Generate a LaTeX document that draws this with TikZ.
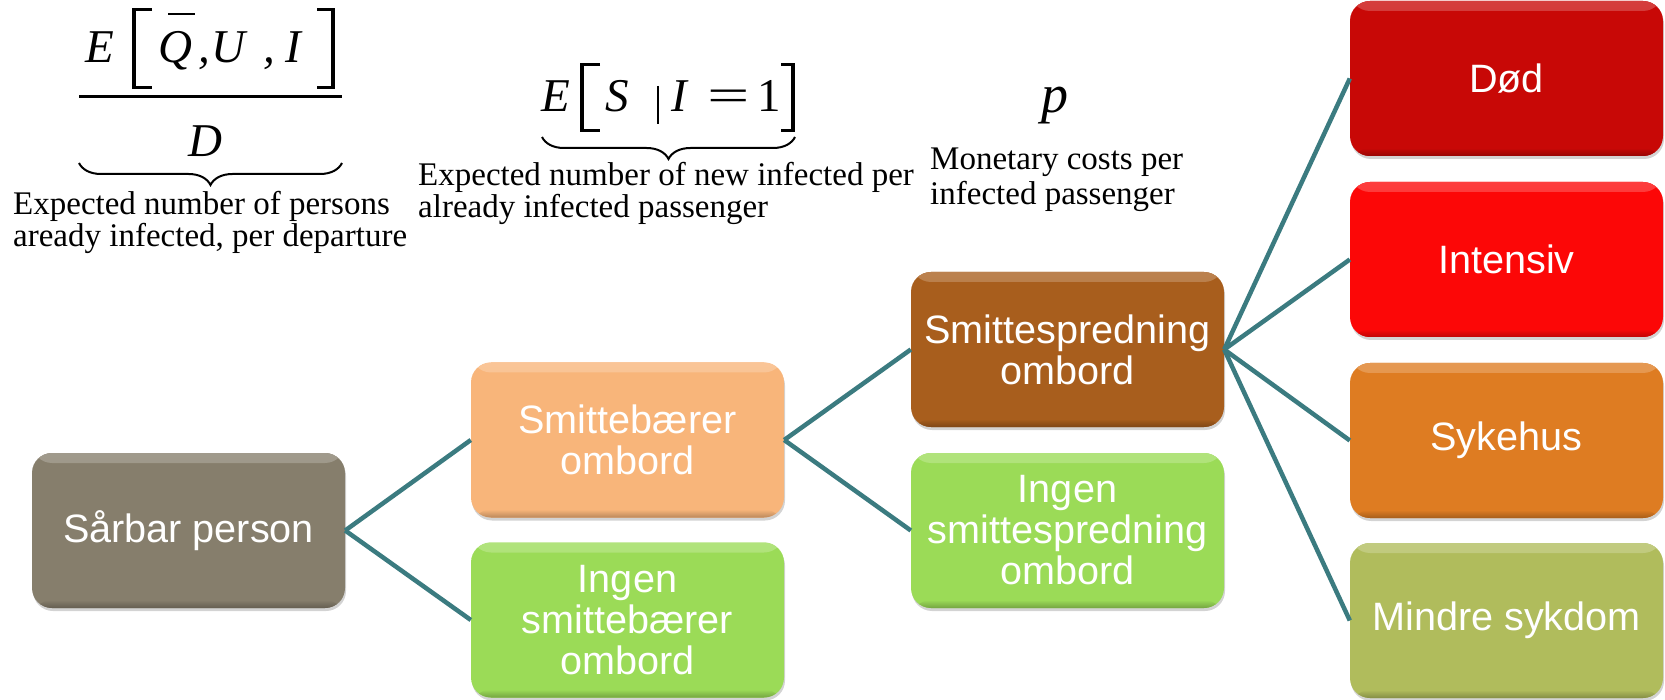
\documentclass[tikz,border=0pt]{standalone}
\usepackage{fontspec}
\setmainfont{Liberation Serif}
\newfontfamily\arialf{Liberation Sans}
\usetikzlibrary{shadows,decorations.pathreplacing}
\definecolor{csar}{HTML}{867E6C}
\definecolor{csmb}{HTML}{F8B57A}
\definecolor{cgreen}{HTML}{9BDB57}
\definecolor{cspr}{HTML}{A85E1D}
\definecolor{cdod}{HTML}{C80806}
\definecolor{cint}{HTML}{FC0707}
\definecolor{csyk}{HTML}{DE7C22}
\definecolor{cmin}{HTML}{B0BC5C}
\definecolor{linkc}{HTML}{3B7B80}
\begin{document}
\begin{tikzpicture}[x=1pt,y=-1pt,
  conn/.style={draw=linkc, line width=4.5pt},
  boxx/.style={rounded corners=20pt, minimum width=313pt, minimum height=155pt,
    inner sep=0pt, fill=#1, text=white, align=center,
    font=\arialf\fontsize{39.6}{41}\selectfont,
    drop shadow={opacity=0.35, shadow xshift=1pt, shadow yshift=-3pt},
    path picture={
      \shade[top color=#1!78!white, bottom color=#1]
        (path picture bounding box.north west) rectangle
        ([yshift=-10pt]path picture bounding box.north east);
      \shade[top color=#1, bottom color=#1!75!black]
        ([yshift=8pt]path picture bounding box.south west) rectangle
        (path picture bounding box.south east);
    }},
  lbl/.style={inner sep=0pt, align=left, anchor=base west,
    font=\fontsize{33}{32}\selectfont},
  mth/.style={inner sep=0pt, anchor=base west,
    font=\itshape\fontsize{47}{47}\selectfont},
  mup/.style={inner sep=0pt, anchor=base west,
    font=\fontsize{47}{47}\selectfont},
  brk/.style={line width=3.5pt},
  brc/.style={line width=2pt, decorate, decoration={brace, amplitude=22pt}}
]
\useasboundingbox (0,0) rectangle (1665,700);

% ---- left formula ----
\node[mth] (fE) at (85,63) {E};
\draw[brk] (152,9.5) -- (134,9.5) -- (134,87.5) -- (152,87.5);
\node[mth] (fQ) at (158,63) {Q};
\draw[line width=2pt] (168,14) -- (195,14);
\node[mth] (fc1) at (198,63) {,};
\node[mth] (fU) at (211,63) {U};
\node[mth] (fc2) at (263,63) {,};
\node[mth] (fI) at (285,63) {I};
\draw[brk] (317,9.5) -- (333,9.5) -- (333,87.5) -- (317,87.5);
\draw[line width=3pt] (79,97) -- (342,97);
\node[mth] (fD) at (188,157) {D};
\draw[brc] (342,163) -- (79,163);
\node[lbl] (t1) at (13,247) {Expected number of persons\\aready infected, per departure};

% ---- middle formula ----
\node[mth] (gE) at (541,112) {E};
\draw[brk] (600,64.5) -- (582,64.5) -- (582,130.5) -- (600,130.5);
\node[mth] (gS) at (605,112) {S};
\draw[line width=2.5pt] (658,86) -- (658,124);
\node[mth] (gI) at (671,112) {I};
\node[mup] (geq) at (707,112) {\scalebox{1.6}[1]{=}};
\node[mup] (g1) at (757,112) {1};
\draw[brk] (781,64.5) -- (793,64.5) -- (793,130.5) -- (781,130.5);
\draw[brc] (795,137) -- (542,137);
\node[lbl] (t2) at (418,218) {Expected number of new infected per\\already infected passenger};

% ---- right ----
\node[inner sep=0pt, anchor=base west, font=\itshape\fontsize{54}{54}\selectfont] (hp) at (1041,113) {p};
\node[lbl, font=\fontsize{33}{35}\selectfont] (t3) at (930,205) {Monetary costs per\\infected passenger};

% ---- boxes ----
\node[boxx=csar] (sar) at (188.5,530.5) {Sårbar person};
\node[boxx=csmb] (smb) at (627.5,440) {Smittebærer\\ombord};
\node[boxx=cgreen] (ism) at (627.5,620) {Ingen\\smittebærer\\ombord};
\node[boxx=cspr] (spr) at (1067.5,349.5) {Smittespredning\\ombord};
\node[boxx=cgreen] (isp) at (1067.5,530.5) {Ingen\\smittespredning\\ombord};
\node[boxx=cdod] (dod) at (1506.5,78.5) {Død};
\node[boxx=cint] (int) at (1506.5,259.5) {Intensiv};
\node[boxx=csyk] (syk) at (1506.5,440.5) {Sykehus};
\node[boxx=cmin] (min) at (1506.5,620.5) {Mindre sykdom};

% ---- connectors ----
\draw[conn] (sar.east) -- (smb.west);
\draw[conn] (sar.east) -- (ism.west);
\draw[conn] (smb.east) -- (spr.west);
\draw[conn] (smb.east) -- (isp.west);
\draw[conn] (spr.east) -- (dod.west);
\draw[conn] (spr.east) -- (int.west);
\draw[conn] (spr.east) -- (syk.west);
\draw[conn] (spr.east) -- (min.west);
\end{tikzpicture}
\end{document}
